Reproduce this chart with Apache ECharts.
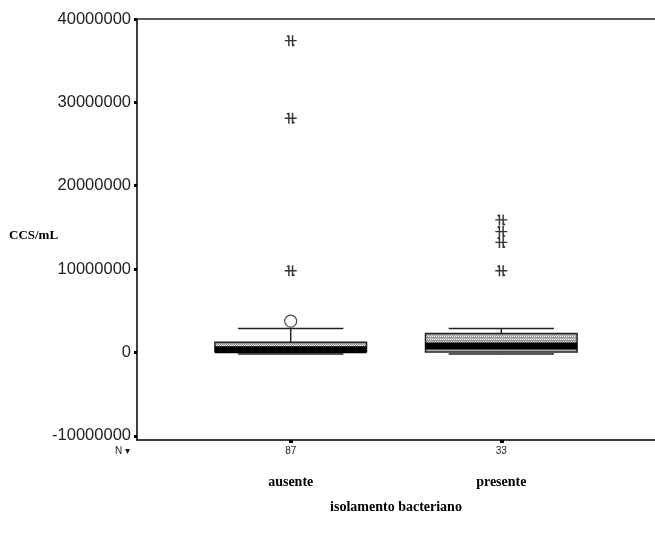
<!DOCTYPE html>
<html>
<head>
<meta charset="utf-8">
<script src="https://cdn.jsdelivr.net/npm/echarts@6/dist/echarts.min.js"></script>
<style>html,body{margin:0;padding:0;background:#fff}#c{width:655px;height:535px}</style>
</head>
<body>
<div id="c"></div>
<script>
// ---- data ----
const categories = ['ausente', 'presente'];
const nCounts = ['87', '33'];
const xPositions = [1, 2];
const lowerWhisker = [0, 0];
const q1 = [100000, 60000];
const median = [320000, 780000];
const q3 = [1230000, 2280000];
const upperWhisker = [2880000, 2880000];
const outlierCat = [0];
const outlierVal = [3750000];
const extremeCat = [0, 0, 0, 1, 1, 1, 1];
const extremeVal = [37400000, 28100000, 9800000, 15900000, 14500000, 13200000, 9800000];
const yTicks = [-10000000, 0, 10000000, 20000000, 30000000, 40000000];

// pattern for box fill
const pc = document.createElement('canvas');
pc.width = 2; pc.height = 3;
const pctx = pc.getContext('2d');
pctx.fillStyle = '#9a9a9a'; pctx.fillRect(0, 0, 2, 3);
pctx.fillStyle = '#ffffff'; pctx.fillRect(0, 0, 1, 1);
pctx.fillStyle = '#c8c8c8'; pctx.fillRect(1, 2, 1, 1);
const boxPattern = { image: pc, repeat: 'repeat' };

const boxData = xPositions.map((x, i) => [x, lowerWhisker[i], q1[i], median[i], q3[i], upperWhisker[i]]);
const outlierData = outlierCat.map((c, i) => [xPositions[c], outlierVal[i]]);
const extremeData = extremeCat.map((c, i) => [xPositions[c], extremeVal[i]]);

const chart = echarts.init(document.getElementById('c'));
const serif = '"Liberation Serif", "DejaVu Serif", serif';
const sans = '"Liberation Sans", Arial, sans-serif';

chart.setOption({
  animation: false,
  backgroundColor: '#fff',
  grid: { left: 137, top: 19, right: 0, bottom: 95 },
  xAxis: [{
    type: 'value', min: 0.27, max: 2.73,
    axisLine: { show: true, onZero: false, lineStyle: { color: '#000', width: 1.5 } },
    axisTick: { show: true, customValues: xPositions, length: 3, lineStyle: { color: '#000', width: 4 } },
    axisLabel: {
      customValues: xPositions,
      margin: 5,
      formatter: function (v) {
        const i = xPositions.indexOf(v);
        return '{n|' + nCounts[i] + '}\n{c|' + categories[i] + '}';
      },
      rich: {
        n: { fontFamily: sans, fontSize: 10, color: '#222', lineHeight: 12 },
        c: { fontFamily: serif, fontSize: 14, fontWeight: 'bold', color: '#000', lineHeight: 16, padding: [34, 0, 0, 0] }
      }
    },
    splitLine: { show: false },
    name: 'isolamento bacteriano',
    nameLocation: 'middle',
    nameGap: 60,
    nameTextStyle: { fontFamily: serif, fontSize: 14, fontWeight: 'bold', color: '#000' }
  }, {
    type: 'value', position: 'top', min: 0.27, max: 2.73,
    axisLine: { show: true, onZero: false, lineStyle: { color: '#222', width: 1.5 } },
    axisTick: { show: false }, axisLabel: { show: false }, splitLine: { show: false }
  }],
  yAxis: {
    type: 'value', min: -10500000, max: 40000000,
    axisLine: { show: true, onZero: false, lineStyle: { color: '#000', width: 1.5 } },
    axisTick: { show: true, customValues: yTicks, length: 3, lineStyle: { color: '#000', width: 3 } },
    axisLabel: {
      customValues: yTicks, margin: 6, fontFamily: sans, fontSize: 16.5, color: '#222',
      formatter: function (v) { return String(Math.round(v)); }
    },
    splitLine: { show: false }
  },
  graphic: [
    { type: 'text', left: 9, top: 229, style: { text: 'CCS/mL', font: 'bold 13px ' + serif, fill: '#000' } },
    { type: 'text', left: 115, top: 446, style: { text: 'N ▾', font: '10px ' + sans, fill: '#222' } }
  ],
  series: [{
    type: 'custom',
    data: boxData,
    encode: { x: 0, y: [1, 2, 3, 4, 5] },
    renderItem: function (params, api) {
      const x = api.value(0);
      const band = api.size([1, 0])[0];
      const cx = api.coord([x, 0])[0];
      const bh = band * 0.36, ch = band * 0.25;
      const yl = api.coord([x, api.value(1)])[1];
      const y1 = api.coord([x, api.value(2)])[1];
      const ym = api.coord([x, api.value(3)])[1];
      const y3 = api.coord([x, api.value(4)])[1];
      const yu = api.coord([x, api.value(5)])[1];
      const ls = { stroke: '#222', lineWidth: 1.5 };
      return {
        type: 'group',
        children: [
          { type: 'line', shape: { x1: cx, y1: yu, x2: cx, y2: y3 }, style: ls },
          { type: 'line', shape: { x1: cx - ch, y1: yu, x2: cx + ch, y2: yu }, style: ls },
          { type: 'line', shape: { x1: cx, y1: y1, x2: cx, y2: yl }, style: ls },
          { type: 'line', shape: { x1: cx - ch, y1: yl + 1.5, x2: cx + ch, y2: yl + 1.5 }, style: ls },
          { type: 'rect', shape: { x: cx - bh, y: y3, width: 2 * bh, height: y1 - y3 }, style: { fill: boxPattern, stroke: '#222', lineWidth: 1.5 } },
          { type: 'rect', shape: { x: cx - bh, y: ym - 3.5, width: 2 * bh, height: 7 }, style: { fill: '#000' } }
        ]
      };
    }
  }, {
    type: 'scatter',
    data: outlierData,
    symbol: 'circle', symbolSize: 12,
    itemStyle: { color: '#fff', borderColor: '#222', borderWidth: 1.2 },
    z: 5
  }, {
    type: 'scatter',
    data: extremeData,
    symbol: 'path://M0,6L13,6M4.5,0L4.5,12M8.5,0L8.5,12M2.5,0.5L4.5,2.5M10.5,11.5L8.5,9.5',
    symbolSize: [12, 11],
    itemStyle: { color: 'none', borderColor: '#000', borderWidth: 1.4 },
    z: 5
  }]
});
</script>
</body>
</html>
